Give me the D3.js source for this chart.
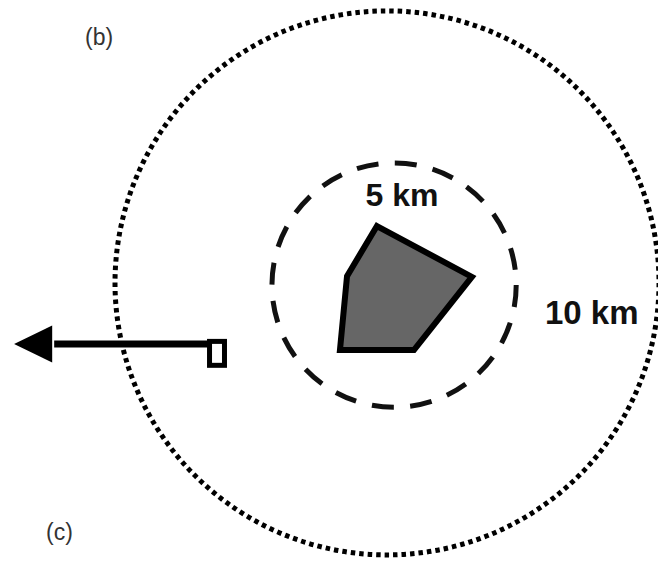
<!DOCTYPE html>
<html>
<head>
<meta charset="utf-8">
<script src="https://cdn.jsdelivr.net/npm/d3@7"></script>
<style>
  html, body { margin: 0; padding: 0; background: #fff; }
  svg { display: block; }
</style>
</head>
<body>
<div id="chart"></div>
<script>
// ---- data (diagram units: km, origin near the site centre, y up) ----
const ringNames   = ["10 km", "5 km"];
const ringCx      = [-0.11, 0.15];
const ringCy      = [0.04, -0.04];
const ringRadius  = [10.0, 4.49];
const siteX       = [-0.48, 3.01, 0.88, -1.84, -1.58];
const siteY       = [2.13, 0.26, -2.43, -2.43, 0.29];
const sourceX     = [-6.36];
const sourceY     = [-2.55];
const sourceW     = [0.55];
const sourceH     = [0.88];
const arrowFromX  = [-6.62];
const arrowToX    = [-13.82];
const arrowY      = [-2.21];
const arrowHeadLen = [1.4];
const arrowHeadHalf = [0.68];
const panelLabels = ["(b)", "(c)"];

const W = 658, H = 562;
const cxPx = 390, cyPx = 284, unit = 27.2;
const x = d3.scaleLinear().domain([-15, 15]).range([cxPx - 15 * unit, cxPx + 15 * unit]);
const y = d3.scaleLinear().domain([-15, 15]).range([cyPx + 15 * unit, cyPx - 15 * unit]);
const len = v => Math.abs(x(v) - x(0));

const svg = d3.select("#chart").append("svg")
  .attr("width", W).attr("height", H)
  .style("font-family", "'Liberation Sans', Arial, Helvetica, sans-serif");

// outer dotted ring (10 km)
svg.append("circle")
  .attr("cx", x(ringCx[0])).attr("cy", y(ringCy[0])).attr("r", len(ringRadius[0]))
  .attr("fill", "none").attr("stroke", "#000").attr("stroke-width", 5)
  .attr("stroke-dasharray", "4.5 4");

// inner dashed ring (5 km)
svg.append("circle")
  .attr("cx", x(ringCx[1])).attr("cy", y(ringCy[1])).attr("r", len(ringRadius[1]))
  .attr("fill", "none").attr("stroke", "#111").attr("stroke-width", 5)
  .attr("stroke-dasharray", "22 16.4");

// site polygon
const pts = siteX.map((v, i) => [x(v), y(siteY[i])]);
svg.append("path")
  .attr("d", d3.line()(pts) + "Z")
  .attr("fill", "#666").attr("stroke", "#000").attr("stroke-width", 6)
  .attr("stroke-linejoin", "miter");

// arrow line
const headBase = arrowToX[0] + arrowHeadLen[0];
svg.append("line")
  .attr("x1", x(arrowFromX[0])).attr("x2", x(headBase) + 2)
  .attr("y1", y(arrowY[0])).attr("y2", y(arrowY[0]))
  .attr("stroke", "#000").attr("stroke-width", 7);
svg.append("path")
  .attr("d", d3.line()([
    [x(arrowToX[0]), y(arrowY[0])],
    [x(headBase), y(arrowY[0] + arrowHeadHalf[0])],
    [x(headBase), y(arrowY[0] - arrowHeadHalf[0])]
  ]) + "Z")
  .attr("fill", "#000");

// source box
svg.append("rect")
  .attr("x", x(sourceX[0] - sourceW[0] / 2))
  .attr("y", y(sourceY[0] + sourceH[0] / 2))
  .attr("width", len(sourceW[0])).attr("height", len(sourceH[0]))
  .attr("fill", "#fff").attr("stroke", "#000").attr("stroke-width", 5);

// ring labels
svg.append("text")
  .attr("x", 402).attr("y", 206)
  .attr("text-anchor", "middle")
  .attr("font-size", 32).attr("font-weight", "bold").attr("fill", "#111")
  .text(ringNames[1]);
svg.append("text")
  .attr("x", 545).attr("y", 324)
  .attr("font-size", 33).attr("font-weight", "bold").attr("fill", "#111")
  .text(ringNames[0]);

// panel labels
svg.append("text").attr("x", 85).attr("y", 45)
  .attr("font-size", 23).attr("fill", "#333").text(panelLabels[0]);
svg.append("text").attr("x", 46).attr("y", 540)
  .attr("font-size", 23).attr("fill", "#333").text(panelLabels[1]);
</script>
</body>
</html>
